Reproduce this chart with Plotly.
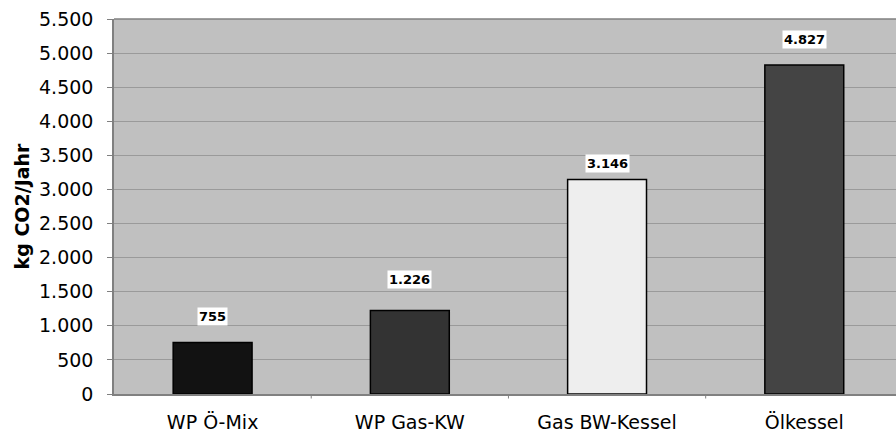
import plotly.graph_objects as go

categories = ["WP Ö-Mix", "WP Gas-KW", "Gas BW-Kessel", "Ölkessel"]
values = [755, 1226, 3146, 4827]
value_labels = ["755", "1.226", "3.146", "4.827"]
y_ticks = list(range(0, 5501, 500))

FONT = "DejaVu Sans, Verdana, sans-serif"
BAR_COLORS = ["#121212", "#333333", "#eeeeee", "#444444"]
# vertical distance (px) of each value label's centre above its bar
LABEL_SHIFT = [26, 31, 16, 25]

fig = go.Figure()
fig.add_trace(go.Bar(
    x=list(range(len(categories))),
    y=values,
    width=0.4,
    marker=dict(color=BAR_COLORS, line=dict(color="#000000", width=1.5)),
    hoverinfo="skip",
))

for i, (v, lab) in enumerate(zip(values, value_labels)):
    fig.add_annotation(
        x=i, y=v, text="<b>" + lab + "</b>", showarrow=False,
        yanchor="middle", yshift=LABEL_SHIFT[i],
        font=dict(family=FONT, size=13, color="#000000"),
        bgcolor="#ffffff", borderpad=1,
    )

fig.update_layout(
    width=896, height=435,
    margin=dict(l=114, r=0, t=19, b=41),
    paper_bgcolor="#ffffff",
    plot_bgcolor="#c0c0c0",
    separators=",.",
    showlegend=False,
    font=dict(family=FONT, size=19, color="#000000"),
    xaxis=dict(
        range=[-0.5, 3.465],
        tickmode="array",
        tickvals=list(range(len(categories))),
        ticktext=categories,
        ticks="",
        ticklabelstandoff=10,
        showgrid=False,
        showline=True, linecolor="#808080", linewidth=2,
        tickfont=dict(family=FONT, size=19),
        zeroline=False,
    ),
    yaxis=dict(
        range=[0, 5500],
        tickmode="array",
        tickvals=y_ticks,
        tickformat=",d",
        ticks="outside", ticklen=5, tickcolor="#808080",
        ticklabelstandoff=10,
        showgrid=True, gridcolor="#9a9a9a", gridwidth=1,
        showline=True, linecolor="#808080", linewidth=1.5,
        zeroline=False,
        tickfont=dict(family=FONT, size=19),
        title=dict(text="<b>kg CO2/Jahr</b>", font=dict(family=FONT, size=19), standoff=4),
    ),
)

# category separator ticks below the x axis
for k in range(len(categories) - 1):
    fig.add_shape(type="line", xref="x", yref="paper",
                  x0=k + 0.5, x1=k + 0.5, y0=0, y1=-0.012,
                  line=dict(color="#808080", width=1))

# top border of the plot area
fig.add_shape(type="line", xref="paper", yref="paper", x0=0, x1=1, y0=1, y1=1,
              line=dict(color="#808080", width=1.5))

fig.write_html("out.html")
